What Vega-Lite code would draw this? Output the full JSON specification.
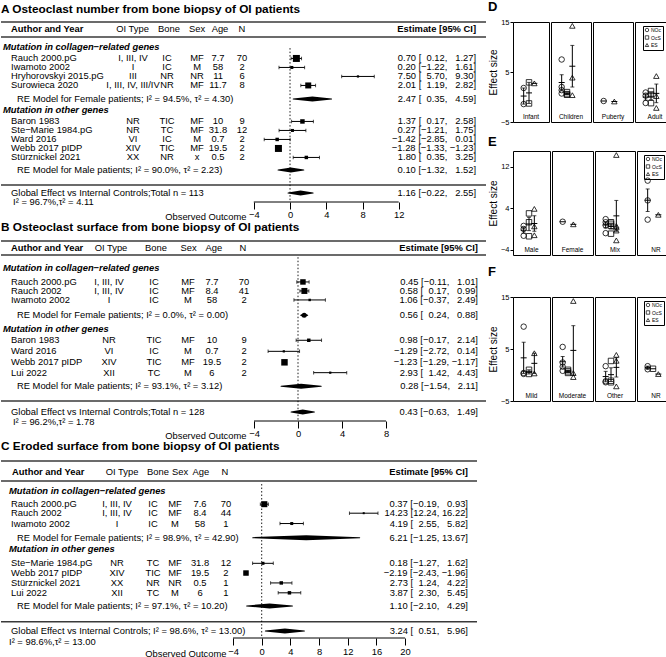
{
"$schema": "https://vega.github.io/schema/vega-lite/v6.json",
"padding": 0,
"background": "white",
"config": {"font": "Liberation Sans", "view": {"stroke": null}, "text": {"font": "Liberation Sans", "fontSize": 9.4, "color": "black"}, "title": {"font": "Liberation Sans", "color": "black"}, "axis": {"labelFont": "Liberation Sans", "titleFont": "Liberation Sans"}, "legend": {"labelFont": "Liberation Sans"}},
"datasets": {
"A": [
{"author": "Rauch 2000.pG", "oitype": "I, III, IV", "bone": "IC", "sex": "MF", "age": "7.7", "n": "70", "est": 0.70, "lo": 0.12, "hi": 1.27, "weight": 49, "row": 4.05, "ci": "0.70 [\u20070.12, \u20071.27]"},
{"author": "Iwamoto 2002", "oitype": "I", "bone": "IC", "sex": "M", "age": "58", "n": "2", "est": 0.20, "lo": -1.22, "hi": 1.61, "weight": 9, "row": 5.05, "ci": "0.20 [\u22121.22, \u20071.61]"},
{"author": "Hryhorovskyi 2015.pG", "oitype": "III", "bone": "NR", "sex": "NR", "age": "11", "n": "6", "est": 7.50, "lo": 5.70, "hi": 9.30, "weight": 5, "row": 6.05, "ci": "7.50 [\u20075.70, \u20079.30]"},
{"author": "Surowieca 2020", "oitype": "I, III, IV, III/IV", "bone": "NR", "sex": "MF", "age": "11.7", "n": "8", "est": 2.01, "lo": 1.19, "hi": 2.82, "weight": 36, "row": 7.05, "ci": "2.01 [\u20071.19, \u20072.82]"},
{"author": "Baron 1983", "oitype": "NR", "bone": "TIC", "sex": "MF", "age": "10", "n": "9", "est": 1.37, "lo": 0.17, "hi": 2.58, "weight": 20, "row": 11.05, "ci": "1.37 [\u20070.17, \u20072.58]"},
{"author": "Ste\u2212Marie 1984.pG", "oitype": "NR", "bone": "TC", "sex": "MF", "age": "31.8", "n": "12", "est": 0.27, "lo": -1.21, "hi": 1.75, "weight": 9, "row": 12.05, "ci": "0.27 [\u22121.21, \u20071.75]"},
{"author": "Ward 2016", "oitype": "VI", "bone": "IC", "sex": "M", "age": "0.7", "n": "2", "est": -1.42, "lo": -2.85, "hi": 0.01, "weight": 12, "row": 13.05, "ci": "\u22121.42 [\u22122.85, \u20070.01]"},
{"author": "Webb 2017 pIDP", "oitype": "XIV", "bone": "TIC", "sex": "MF", "age": "19.5", "n": "2", "est": -1.28, "lo": -1.33, "hi": -1.23, "weight": 49, "row": 14.05, "ci": "\u22121.28 [\u22121.33, \u22121.23]"},
{"author": "St\u00fcrznickel 2021", "oitype": "XX", "bone": "NR", "sex": "x", "age": "0.5", "n": "2", "est": 1.80, "lo": 0.35, "hi": 3.25, "weight": 12, "row": 15.05, "ci": "1.80 [\u20070.35, \u20073.25]"}
],
"Asum": [
{"label": "RE Model for Female patients; I\u00b2 = 94.5%, \u03c4\u00b2 = 4.30)", "kind": "RE", "est": 2.47, "lo": 0.35, "hi": 4.59, "row": 8.56, "ci": "2.47 [\u20070.35, \u20074.59]"},
{"label": "RE Model for Male patients; I\u00b2 = 90.0%, \u03c4\u00b2 = 2.23)", "kind": "RE", "est": 0.10, "lo": -1.32, "hi": 1.52, "row": 16.44, "ci": "0.10 [\u22121.32, \u20071.52]"},
{"label": "Global Effect vs Internal Controls;Total n = 113", "kind": "G", "est": 1.16, "lo": -0.22, "hi": 2.55, "row": 19.0, "ci": "1.16 [\u22120.22, \u20072.55]"}
],
"B": [
{"author": "Rauch 2000.pG", "oitype": "I, III, IV", "bone": "IC", "sex": "MF", "age": "7.7", "n": "70", "est": 0.45, "lo": -0.11, "hi": 1.01, "weight": 30, "row": 4.55, "ci": "0.45 [\u22120.11, \u20071.01]"},
{"author": "Rauch 2002", "oitype": "I, III, IV", "bone": "IC", "sex": "MF", "age": "8.4", "n": "41", "est": 0.58, "lo": 0.17, "hi": 0.99, "weight": 36, "row": 5.55, "ci": "0.58 [\u20070.17, \u20070.99]"},
{"author": "Iwamoto 2002", "oitype": "I", "bone": "IC", "sex": "M", "age": "58", "n": "2", "est": 1.06, "lo": -0.37, "hi": 2.49, "weight": 6, "row": 6.55, "ci": "1.06 [\u22120.37, \u20072.49]"},
{"author": "Baron 1983", "oitype": "NR", "bone": "TIC", "sex": "MF", "age": "10", "n": "9", "est": 0.98, "lo": -0.17, "hi": 2.14, "weight": 12, "row": 11.03, "ci": "0.98 [\u22120.17, \u20072.14]"},
{"author": "Ward 2016", "oitype": "VI", "bone": "IC", "sex": "M", "age": "0.7", "n": "2", "est": -1.29, "lo": -2.72, "hi": 0.14, "weight": 5, "row": 12.26, "ci": "\u22121.29 [\u22122.72, \u20070.14]"},
{"author": "Webb 2017 pIDP", "oitype": "XIV", "bone": "TIC", "sex": "MF", "age": "19.5", "n": "2", "est": -1.23, "lo": -1.29, "hi": -1.17, "weight": 42, "row": 13.48, "ci": "\u22121.23 [\u22121.29, \u22121.17]"},
{"author": "Lui 2022", "oitype": "XII", "bone": "TC", "sex": "M", "age": "6", "n": "2", "est": 2.93, "lo": 1.42, "hi": 4.43, "weight": 5, "row": 14.63, "ci": "2.93 [\u20071.42, \u20074.43]"}
],
"Bsum": [
{"label": "RE Model for Female patients; I\u00b2 = 0.0%, \u03c4\u00b2 = 0.00)", "kind": "RE", "est": 0.56, "lo": 0.24, "hi": 0.88, "row": 8.26, "ci": "0.56 [\u20070.24, \u20070.88]"},
{"label": "RE Model for Male patients; I\u00b2 = 93.1%, \u03c4\u00b2 = 3.12)", "kind": "RE", "est": 0.28, "lo": -1.54, "hi": 2.11, "row": 16.14, "ci": "0.28 [\u22121.54, \u20072.11]"},
{"label": "Global Effect vs Internal Controls;Total n = 128", "kind": "G", "est": 0.43, "lo": -0.63, "hi": 1.49, "row": 19.0, "ci": "0.43 [\u22120.63, \u20071.49]"}
],
"C": [
{"author": "Rauch 2000.pG", "oitype": "I, III, IV", "bone": "IC", "sex": "MF", "age": "7.6", "n": "70", "est": 0.37, "lo": -0.19, "hi": 0.93, "weight": 36, "row": 4.8, "ci": "0.37 [\u22120.19, \u20070.93]"},
{"author": "Rauch 2002", "oitype": "I, III, IV", "bone": "IC", "sex": "MF", "age": "8.4", "n": "44", "est": 14.23, "lo": 12.24, "hi": 16.22, "weight": 4, "row": 5.8, "ci": "14.23 [12.24, 16.22]"},
{"author": "Iwamoto 2002", "oitype": "I", "bone": "IC", "sex": "M", "age": "58", "n": "1", "est": 4.19, "lo": 2.55, "hi": 5.82, "weight": 9, "row": 6.95, "ci": "4.19 [\u20072.55, \u20075.82]"},
{"author": "Ste\u2212Marie 1984.pG", "oitype": "NR", "bone": "TC", "sex": "MF", "age": "31.8", "n": "12", "est": 0.18, "lo": -1.27, "hi": 1.62, "weight": 9, "row": 11.37, "ci": "0.18 [\u22121.27, \u20071.62]"},
{"author": "Webb 2017 pIDP", "oitype": "XIV", "bone": "TIC", "sex": "MF", "age": "19.5", "n": "2", "est": -2.19, "lo": -2.43, "hi": -1.96, "weight": 30, "row": 12.45, "ci": "\u22122.19 [\u22122.43, \u22121.96]"},
{"author": "St\u00fcrznickel 2021", "oitype": "XX", "bone": "NR", "sex": "NR", "age": "0.5", "n": "1", "est": 2.73, "lo": 1.24, "hi": 4.22, "weight": 12, "row": 13.55, "ci": "2.73 [\u20071.24, \u20074.22]"},
{"author": "Lui 2022", "oitype": "XII", "bone": "TC", "sex": "M", "age": "6", "n": "1", "est": 3.87, "lo": 2.30, "hi": 5.45, "weight": 12, "row": 14.65, "ci": "3.87 [\u20072.30, \u20075.45]"}
],
"Csum": [
{"label": "RE Model for Female patients; I\u00b2 = 98.9%, \u03c4\u00b2 = 42.90)", "kind": "RE", "est": 6.21, "lo": -1.25, "hi": 13.67, "row": 8.52, "ci": "6.21 [\u22121.25, 13.67]"},
{"label": "RE Model for Male patients; I\u00b2 = 97.1%, \u03c4\u00b2 = 10.20)", "kind": "RE", "est": 1.10, "lo": -2.10, "hi": 4.29, "row": 16.11, "ci": "1.10 [\u22122.10, \u20074.29]"},
{"label": "Global Effect vs Internal Controls; I\u00b2 = 98.6%, \u03c4\u00b2 = 13.00)", "kind": "G", "est": 3.24, "lo": 0.51, "hi": 5.96, "row": 18.89, "ci": "3.24 [\u20070.51, \u20075.96]"}
],
"D": [
{"cat": "Infant", "measure": "NOc", "value": 1.80}, {"cat": "Infant", "measure": "NOc", "value": -1.42},
{"cat": "Infant", "measure": "OcS", "value": 2.93}, {"cat": "Infant", "measure": "OcS", "value": -1.29},
{"cat": "Infant", "measure": "ES", "value": 2.73},
{"cat": "Children", "measure": "NOc", "value": 7.50}, {"cat": "Children", "measure": "NOc", "value": 2.01}, {"cat": "Children", "measure": "NOc", "value": 1.37}, {"cat": "Children", "measure": "NOc", "value": 0.70},
{"cat": "Children", "measure": "OcS", "value": 0.98}, {"cat": "Children", "measure": "OcS", "value": 0.58}, {"cat": "Children", "measure": "OcS", "value": 0.45},
{"cat": "Children", "measure": "ES", "value": 14.23}, {"cat": "Children", "measure": "ES", "value": 3.87}, {"cat": "Children", "measure": "ES", "value": 0.37},
{"cat": "Puberty", "measure": "NOc", "value": -0.8},
{"cat": "Puberty", "measure": "ES", "value": -0.9},
{"cat": "Adult", "measure": "NOc", "value": 0.9}, {"cat": "Adult", "measure": "NOc", "value": 0.27}, {"cat": "Adult", "measure": "NOc", "value": -1.2},
{"cat": "Adult", "measure": "OcS", "value": 1.2}, {"cat": "Adult", "measure": "OcS", "value": 0.5}, {"cat": "Adult", "measure": "OcS", "value": -1.23},
{"cat": "Adult", "measure": "ES", "value": 4.19}, {"cat": "Adult", "measure": "ES", "value": 0.18}, {"cat": "Adult", "measure": "ES", "value": -2.19}
],
"E": [
{"cat": "Male", "measure": "NOc", "value": 0.6}, {"cat": "Male", "measure": "NOc", "value": 0.0}, {"cat": "Male", "measure": "NOc", "value": -1.3},
{"cat": "Male", "measure": "OcS", "value": 3.0}, {"cat": "Male", "measure": "OcS", "value": 1.3}, {"cat": "Male", "measure": "OcS", "value": -1.4},
{"cat": "Male", "measure": "ES", "value": 3.87}, {"cat": "Male", "measure": "ES", "value": 0.5}, {"cat": "Male", "measure": "ES", "value": -1.2},
{"cat": "Female", "measure": "NOc", "value": 1.4},
{"cat": "Female", "measure": "ES", "value": 0.9},
{"cat": "Mix", "measure": "NOc", "value": 1.9}, {"cat": "Mix", "measure": "NOc", "value": 1.3}, {"cat": "Mix", "measure": "NOc", "value": 0.7}, {"cat": "Mix", "measure": "NOc", "value": -0.8},
{"cat": "Mix", "measure": "OcS", "value": 1.3}, {"cat": "Mix", "measure": "OcS", "value": 1.0}, {"cat": "Mix", "measure": "OcS", "value": 0.6}, {"cat": "Mix", "measure": "OcS", "value": -0.9},
{"cat": "Mix", "measure": "ES", "value": 14.23}, {"cat": "Mix", "measure": "ES", "value": 0.6}, {"cat": "Mix", "measure": "ES", "value": 0.3}, {"cat": "Mix", "measure": "ES", "value": -0.3}, {"cat": "Mix", "measure": "ES", "value": -2.19},
{"cat": "NR", "measure": "NOc", "value": 9.3}, {"cat": "NR", "measure": "NOc", "value": 5.5}, {"cat": "NR", "measure": "NOc", "value": 1.8},
{"cat": "NR", "measure": "ES", "value": 2.73}
],
"F": [
{"cat": "Mild", "measure": "NOc", "value": 9.3}, {"cat": "Mild", "measure": "NOc", "value": 0.4}, {"cat": "Mild", "measure": "NOc", "value": 0.2},
{"cat": "Mild", "measure": "OcS", "value": 1.0}, {"cat": "Mild", "measure": "OcS", "value": 0.2},
{"cat": "Mild", "measure": "ES", "value": 4.19}, {"cat": "Mild", "measure": "ES", "value": 0.3},
{"cat": "Moderate", "measure": "NOc", "value": 5.4}, {"cat": "Moderate", "measure": "NOc", "value": 2.4}, {"cat": "Moderate", "measure": "NOc", "value": 1.6}, {"cat": "Moderate", "measure": "NOc", "value": 0.8},
{"cat": "Moderate", "measure": "OcS", "value": 1.0}, {"cat": "Moderate", "measure": "OcS", "value": 0.7}, {"cat": "Moderate", "measure": "OcS", "value": 0.4},
{"cat": "Moderate", "measure": "ES", "value": 14.23}, {"cat": "Moderate", "measure": "ES", "value": 0.37}, {"cat": "Moderate", "measure": "ES", "value": -0.4},
{"cat": "Other", "measure": "NOc", "value": 1.7}, {"cat": "Other", "measure": "NOc", "value": -1.2}, {"cat": "Other", "measure": "NOc", "value": -1.4},
{"cat": "Other", "measure": "OcS", "value": 2.7}, {"cat": "Other", "measure": "OcS", "value": -1.1}, {"cat": "Other", "measure": "OcS", "value": -1.4},
{"cat": "Other", "measure": "ES", "value": 3.87}, {"cat": "Other", "measure": "ES", "value": 2.73}, {"cat": "Other", "measure": "ES", "value": -2.19},
{"cat": "NR", "measure": "NOc", "value": 1.7}, {"cat": "NR", "measure": "NOc", "value": 1.1},
{"cat": "NR", "measure": "OcS", "value": 1.2},
{"cat": "NR", "measure": "ES", "value": 0.18}
]
},
"hconcat": [
{"vconcat": [
{
"width": 485, "height": 180,
"title": {"text": "A Osteoclast number from bone biopsy of OI patients", "anchor": "start", "frame": "group", "fontSize": 11.8, "fontWeight": "bold", "offset": 7, "dy": 2},
"layer": [
{"data": {"values": [{}]}, "mark": {"type": "rule", "color": "black", "strokeWidth": 1},
 "encoding": {
  "x": {"datum": -4, "type": "quantitative", "scale": {"domain": [-31.9, 21.63], "nice": false, "zero": false},
   "axis": {"values": [-4, 0, 4, 8, 12], "domain": false, "grid": false, "tickSize": 7, "tickColor": "black", "tickWidth": 1, "labelFontSize": 9.4, "labelColor": "black", "labelPadding": 1, "labelFlush": false, "labelOverlap": false, "title": "Observed Outcome", "titleFontSize": 9.4, "titleFontWeight": "normal", "titleColor": "black", "titleAlign": "right", "titleX": 245, "titleY": 14, "titleBaseline": "middle"}},
  "x2": {"datum": 12},
  "y": {"datum": 20, "type": "quantitative", "scale": {"domain": [0, 20], "reverse": true, "nice": false, "zero": false}, "axis": null}}},
{"data": {"values": [{}]}, "mark": {"type": "rule", "color": "#3a3a3a", "strokeWidth": 1.6}, "encoding": {"y": {"datum": 0}}},
{"data": {"values": [{}]}, "mark": {"type": "rule", "color": "#3a3a3a", "strokeWidth": 1.6}, "encoding": {"y": {"datum": 1.67}}},
{"data": {"values": [{}]}, "mark": {"type": "rule", "color": "#3a3a3a", "strokeWidth": 1.6}, "encoding": {"y": {"datum": 18.11}}},
{"data": {"values": [{}]}, "mark": {"type": "rule", "color": "black", "strokeWidth": 0.9, "strokeDash": [1.5, 2]}, "encoding": {"x": {"datum": 0}, "y": {"datum": 2.9}, "y2": {"datum": 20}}},
{"data": {"values": [{}]}, "mark": {"type": "text", "align": "left", "fontWeight": "bold"}, "encoding": {"x": {"datum": -30.79}, "y": {"datum": 0.78}, "text": {"value": "Author and Year"}}},
{"data": {"values": [{}]}, "mark": {"type": "text"}, "encoding": {"x": {"datum": -17.38}, "y": {"datum": 0.78}, "text": {"value": "OI Type"}}},
{"data": {"values": [{}]}, "mark": {"type": "text"}, "encoding": {"x": {"datum": -13.36}, "y": {"datum": 0.78}, "text": {"value": "Bone"}}},
{"data": {"values": [{}]}, "mark": {"type": "text"}, "encoding": {"x": {"datum": -10.26}, "y": {"datum": 0.78}, "text": {"value": "Sex"}}},
{"data": {"values": [{}]}, "mark": {"type": "text"}, "encoding": {"x": {"datum": -7.73}, "y": {"datum": 0.78}, "text": {"value": "Age"}}},
{"data": {"values": [{}]}, "mark": {"type": "text"}, "encoding": {"x": {"datum": -5.3}, "y": {"datum": 0.78}, "text": {"value": "N"}}},
{"data": {"values": [{}]}, "mark": {"type": "text", "align": "right", "fontWeight": "bold"}, "encoding": {"x": {"datum": 20.53}, "y": {"datum": 0.78}, "text": {"value": "Estimate [95% CI]"}}},
{"data": {"values": [{}]}, "mark": {"type": "text", "align": "left", "fontWeight": "bold", "fontStyle": "italic"}, "encoding": {"x": {"datum": -31.68}, "y": {"datum": 2.78}, "text": {"value": "Mutation in collagen\u2212related genes"}}},
{"data": {"values": [{}]}, "mark": {"type": "text", "align": "left", "fontWeight": "bold", "fontStyle": "italic"}, "encoding": {"x": {"datum": -31.68}, "y": {"datum": 9.78}, "text": {"value": "Mutation in other genes"}}},
{"data": {"values": [{}]}, "mark": {"type": "text", "align": "left"}, "encoding": {"x": {"datum": -30.57}, "y": {"datum": 20.0}, "text": {"value": "I\u00b2 = 96.7%,\u03c4\u00b2 = 4.11"}}},
{"data": {"name": "A"}, "mark": {"type": "rule", "color": "black", "strokeWidth": 1}, "encoding": {"x": {"field": "lo", "type": "quantitative"}, "x2": {"field": "hi"}, "y": {"field": "row", "type": "quantitative"}}},
{"data": {"name": "A"}, "mark": {"type": "tick", "orient": "vertical", "size": 3.5, "thickness": 1, "color": "black"}, "encoding": {"x": {"field": "lo", "type": "quantitative"}, "y": {"field": "row", "type": "quantitative"}}},
{"data": {"name": "A"}, "mark": {"type": "tick", "orient": "vertical", "size": 3.5, "thickness": 1, "color": "black"}, "encoding": {"x": {"field": "hi", "type": "quantitative"}, "y": {"field": "row", "type": "quantitative"}}},
{"data": {"name": "A"}, "mark": {"type": "square", "color": "black", "opacity": 1}, "encoding": {"x": {"field": "est", "type": "quantitative"}, "y": {"field": "row", "type": "quantitative"}, "size": {"field": "weight", "type": "quantitative", "scale": {"domain": [0, 50], "range": [0, 50]}, "legend": null}}},
{"data": {"name": "A"}, "mark": {"type": "text", "align": "left"}, "encoding": {"x": {"datum": -30.79}, "y": {"field": "row", "type": "quantitative"}, "text": {"field": "author"}}},
{"data": {"name": "A"}, "mark": {"type": "text"}, "encoding": {"x": {"datum": -17.33}, "y": {"field": "row", "type": "quantitative"}, "text": {"field": "oitype"}}},
{"data": {"name": "A"}, "mark": {"type": "text"}, "encoding": {"x": {"datum": -13.58}, "y": {"field": "row", "type": "quantitative"}, "text": {"field": "bone"}}},
{"data": {"name": "A"}, "mark": {"type": "text"}, "encoding": {"x": {"datum": -10.26}, "y": {"field": "row", "type": "quantitative"}, "text": {"field": "sex"}}},
{"data": {"name": "A"}, "mark": {"type": "text"}, "encoding": {"x": {"datum": -7.95}, "y": {"field": "row", "type": "quantitative"}, "text": {"field": "age"}}},
{"data": {"name": "A"}, "mark": {"type": "text"}, "encoding": {"x": {"datum": -5.3}, "y": {"field": "row", "type": "quantitative"}, "text": {"field": "n"}}},
{"data": {"name": "A"}, "mark": {"type": "text", "align": "right"}, "encoding": {"x": {"datum": 20.53}, "y": {"field": "row", "type": "quantitative"}, "text": {"field": "ci"}}},
{"data": {"name": "Asum"}, "transform": [{"fold": ["lo", "est", "hi"], "as": ["pt", "xv"]}], "mark": {"type": "trail", "color": "black"},
 "encoding": {"x": {"field": "xv", "type": "quantitative"}, "y": {"field": "row", "type": "quantitative"}, "detail": {"field": "label"}, "size": {"condition": {"test": "datum.pt == 'est'", "value": 5}, "value": 0}}},
{"data": {"name": "Asum"}, "transform": [{"filter": "datum.kind == 'RE'"}], "mark": {"type": "text", "align": "left"}, "encoding": {"x": {"datum": -30.13}, "y": {"field": "row", "type": "quantitative"}, "text": {"field": "label"}}},
{"data": {"name": "Asum"}, "transform": [{"filter": "datum.kind == 'G'"}], "mark": {"type": "text", "align": "left"}, "encoding": {"x": {"datum": -30.79}, "y": {"field": "row", "type": "quantitative"}, "text": {"field": "label"}}},
{"data": {"name": "Asum"}, "mark": {"type": "text", "align": "right"}, "encoding": {"x": {"datum": 20.53}, "y": {"field": "row", "type": "quantitative"}, "text": {"field": "ci"}}}
]
},
{
"width": 485, "height": 180,
"title": {"text": "B Osteoclast surface from bone biopsy of OI patients", "anchor": "start", "frame": "group", "fontSize": 11.8, "fontWeight": "bold", "offset": 6},
"layer": [
{"data": {"values": [{}]}, "mark": {"type": "rule", "color": "black", "strokeWidth": 1},
 "encoding": {
  "x": {"datum": -4, "type": "quantitative", "scale": {"domain": [-27.0, 17.09], "nice": false, "zero": false},
   "axis": {"values": [-4, 0, 4, 8], "domain": false, "grid": false, "tickSize": 7, "tickColor": "black", "tickWidth": 1, "labelFontSize": 9.4, "labelColor": "black", "labelPadding": 1, "labelFlush": false, "labelOverlap": false, "title": "Observed Outcome", "titleFontSize": 9.4, "titleFontWeight": "normal", "titleColor": "black", "titleAlign": "right", "titleX": 245, "titleY": 14, "titleBaseline": "middle"}},
  "x2": {"datum": 8},
  "y": {"datum": 20, "type": "quantitative", "scale": {"domain": [0, 20], "reverse": true, "nice": false, "zero": false}, "axis": null}}},
{"data": {"values": [{}]}, "mark": {"type": "rule", "color": "#3a3a3a", "strokeWidth": 1.6}, "encoding": {"y": {"datum": 0}}},
{"data": {"values": [{}]}, "mark": {"type": "rule", "color": "#3a3a3a", "strokeWidth": 1.6}, "encoding": {"y": {"datum": 1.56}}},
{"data": {"values": [{}]}, "mark": {"type": "rule", "color": "#3a3a3a", "strokeWidth": 1.6}, "encoding": {"y": {"datum": 17.78}}},
{"data": {"values": [{}]}, "mark": {"type": "rule", "color": "black", "strokeWidth": 0.9, "strokeDash": [1.5, 2]}, "encoding": {"x": {"datum": 0}, "y": {"datum": 1.8}, "y2": {"datum": 20}}},
{"data": {"values": [{}]}, "mark": {"type": "text", "align": "left", "fontWeight": "bold"}, "encoding": {"x": {"datum": -26.09}, "y": {"datum": 0.78}, "text": {"value": "Author and Year"}}},
{"data": {"values": [{}]}, "mark": {"type": "text"}, "encoding": {"x": {"datum": -17.0}, "y": {"datum": 0.78}, "text": {"value": "OI Type"}}},
{"data": {"values": [{}]}, "mark": {"type": "text"}, "encoding": {"x": {"datum": -12.91}, "y": {"datum": 0.78}, "text": {"value": "Bone"}}},
{"data": {"values": [{}]}, "mark": {"type": "text"}, "encoding": {"x": {"datum": -9.95}, "y": {"datum": 0.78}, "text": {"value": "Sex"}}},
{"data": {"values": [{}]}, "mark": {"type": "text"}, "encoding": {"x": {"datum": -7.64}, "y": {"datum": 0.78}, "text": {"value": "Age"}}},
{"data": {"values": [{}]}, "mark": {"type": "text"}, "encoding": {"x": {"datum": -5.0}, "y": {"datum": 0.78}, "text": {"value": "N"}}},
{"data": {"values": [{}]}, "mark": {"type": "text", "align": "right", "fontWeight": "bold"}, "encoding": {"x": {"datum": 16.36}, "y": {"datum": 0.78}, "text": {"value": "Estimate [95% CI]"}}},
{"data": {"values": [{}]}, "mark": {"type": "text", "align": "left", "fontWeight": "bold", "fontStyle": "italic"}, "encoding": {"x": {"datum": -26.82}, "y": {"datum": 3.0}, "text": {"value": "Mutation in collagen\u2212related genes"}}},
{"data": {"values": [{}]}, "mark": {"type": "text", "align": "left", "fontWeight": "bold", "fontStyle": "italic"}, "encoding": {"x": {"datum": -26.82}, "y": {"datum": 9.74}, "text": {"value": "Mutation in other genes"}}},
{"data": {"values": [{}]}, "mark": {"type": "text", "align": "left"}, "encoding": {"x": {"datum": -25.91}, "y": {"datum": 20.1}, "text": {"value": "I\u00b2 = 96.2%,\u03c4\u00b2 = 1.78"}}},
{"data": {"name": "B"}, "mark": {"type": "rule", "color": "black", "strokeWidth": 1}, "encoding": {"x": {"field": "lo", "type": "quantitative"}, "x2": {"field": "hi"}, "y": {"field": "row", "type": "quantitative"}}},
{"data": {"name": "B"}, "mark": {"type": "tick", "orient": "vertical", "size": 3.5, "thickness": 1, "color": "black"}, "encoding": {"x": {"field": "lo", "type": "quantitative"}, "y": {"field": "row", "type": "quantitative"}}},
{"data": {"name": "B"}, "mark": {"type": "tick", "orient": "vertical", "size": 3.5, "thickness": 1, "color": "black"}, "encoding": {"x": {"field": "hi", "type": "quantitative"}, "y": {"field": "row", "type": "quantitative"}}},
{"data": {"name": "B"}, "mark": {"type": "square", "color": "black", "opacity": 1}, "encoding": {"x": {"field": "est", "type": "quantitative"}, "y": {"field": "row", "type": "quantitative"}, "size": {"field": "weight", "type": "quantitative", "scale": {"domain": [0, 50], "range": [0, 50]}, "legend": null}}},
{"data": {"name": "B"}, "mark": {"type": "text", "align": "left"}, "encoding": {"x": {"datum": -26.09}, "y": {"field": "row", "type": "quantitative"}, "text": {"field": "author"}}},
{"data": {"name": "B"}, "mark": {"type": "text"}, "encoding": {"x": {"datum": -17.18}, "y": {"field": "row", "type": "quantitative"}, "text": {"field": "oitype"}}},
{"data": {"name": "B"}, "mark": {"type": "text"}, "encoding": {"x": {"datum": -13.09}, "y": {"field": "row", "type": "quantitative"}, "text": {"field": "bone"}}},
{"data": {"name": "B"}, "mark": {"type": "text"}, "encoding": {"x": {"datum": -10.0}, "y": {"field": "row", "type": "quantitative"}, "text": {"field": "sex"}}},
{"data": {"name": "B"}, "mark": {"type": "text"}, "encoding": {"x": {"datum": -7.82}, "y": {"field": "row", "type": "quantitative"}, "text": {"field": "age"}}},
{"data": {"name": "B"}, "mark": {"type": "text"}, "encoding": {"x": {"datum": -4.91}, "y": {"field": "row", "type": "quantitative"}, "text": {"field": "n"}}},
{"data": {"name": "B"}, "mark": {"type": "text", "align": "right"}, "encoding": {"x": {"datum": 16.36}, "y": {"field": "row", "type": "quantitative"}, "text": {"field": "ci"}}},
{"data": {"name": "Bsum"}, "transform": [{"fold": ["lo", "est", "hi"], "as": ["pt", "xv"]}], "mark": {"type": "trail", "color": "black"},
 "encoding": {"x": {"field": "xv", "type": "quantitative"}, "y": {"field": "row", "type": "quantitative"}, "detail": {"field": "label"}, "size": {"condition": {"test": "datum.pt == 'est'", "value": 5}, "value": 0}}},
{"data": {"name": "Bsum"}, "transform": [{"filter": "datum.kind == 'RE'"}], "mark": {"type": "text", "align": "left"}, "encoding": {"x": {"datum": -25.55}, "y": {"field": "row", "type": "quantitative"}, "text": {"field": "label"}}},
{"data": {"name": "Bsum"}, "transform": [{"filter": "datum.kind == 'G'"}], "mark": {"type": "text", "align": "left"}, "encoding": {"x": {"datum": -26.09}, "y": {"field": "row", "type": "quantitative"}, "text": {"field": "label"}}},
{"data": {"name": "Bsum"}, "mark": {"type": "text", "align": "right"}, "encoding": {"x": {"datum": 16.36}, "y": {"field": "row", "type": "quantitative"}, "text": {"field": "ci"}}}
]
},
{
"width": 476, "height": 177,
"title": {"text": "C Eroded surface from bone biopsy of OI patients", "anchor": "start", "frame": "group", "fontSize": 11.8, "fontWeight": "bold", "offset": 7},
"layer": [
{"data": {"values": [{}]}, "mark": {"type": "rule", "color": "black", "strokeWidth": 1},
 "encoding": {
  "x": {"datum": -4, "type": "quantitative", "scale": {"domain": [-36.36, 30.03], "nice": false, "zero": false},
   "axis": {"values": [-4, 0, 4, 8, 12, 16, 20], "domain": false, "grid": false, "tickSize": 7, "tickColor": "black", "tickWidth": 1, "labelFontSize": 9.4, "labelColor": "black", "labelPadding": 2, "labelFlush": false, "labelOverlap": false, "title": "Observed Outcome", "titleFontSize": 9.4, "titleFontWeight": "normal", "titleColor": "black", "titleAlign": "right", "titleX": 225, "titleY": 15, "titleBaseline": "middle"}},
  "x2": {"datum": 20},
  "y": {"datum": 19.67, "type": "quantitative", "scale": {"domain": [0, 19.67], "reverse": true, "nice": false, "zero": false}, "axis": null}}},
{"data": {"values": [{}]}, "mark": {"type": "rule", "color": "#3a3a3a", "strokeWidth": 1.6}, "encoding": {"y": {"datum": 0}}},
{"data": {"values": [{}]}, "mark": {"type": "rule", "color": "#3a3a3a", "strokeWidth": 1.6}, "encoding": {"y": {"datum": 2.22}}},
{"data": {"values": [{}]}, "mark": {"type": "rule", "color": "#3a3a3a", "strokeWidth": 1.6}, "encoding": {"y": {"datum": 17.86}}},
{"data": {"values": [{}]}, "mark": {"type": "rule", "color": "black", "strokeWidth": 0.9, "strokeDash": [1.5, 2]}, "encoding": {"x": {"datum": 0}, "y": {"datum": 2.56}, "y2": {"datum": 19.67}}},
{"data": {"values": [{}]}, "mark": {"type": "text", "align": "left", "fontWeight": "bold"}, "encoding": {"x": {"datum": -34.82}, "y": {"datum": 1.22}, "text": {"value": "Author and Year"}}},
{"data": {"values": [{}]}, "mark": {"type": "text"}, "encoding": {"x": {"datum": -19.48}, "y": {"datum": 1.22}, "text": {"value": "OI Type"}}},
{"data": {"values": [{}]}, "mark": {"type": "text"}, "encoding": {"x": {"datum": -14.46}, "y": {"datum": 1.22}, "text": {"value": "Bone"}}},
{"data": {"values": [{}]}, "mark": {"type": "text"}, "encoding": {"x": {"datum": -11.39}, "y": {"datum": 1.22}, "text": {"value": "Sex"}}},
{"data": {"values": [{}]}, "mark": {"type": "text"}, "encoding": {"x": {"datum": -8.47}, "y": {"datum": 1.22}, "text": {"value": "Age"}}},
{"data": {"values": [{}]}, "mark": {"type": "text"}, "encoding": {"x": {"datum": -5.12}, "y": {"datum": 1.22}, "text": {"value": "N"}}},
{"data": {"values": [{}]}, "mark": {"type": "text", "align": "right", "fontWeight": "bold"}, "encoding": {"x": {"datum": 28.77}, "y": {"datum": 1.22}, "text": {"value": "Estimate [95% CI]"}}},
{"data": {"values": [{}]}, "mark": {"type": "text", "align": "left", "fontWeight": "bold", "fontStyle": "italic"}, "encoding": {"x": {"datum": -35.24}, "y": {"datum": 3.33}, "text": {"value": "Mutation in collagen\u2212related genes"}}},
{"data": {"values": [{}]}, "mark": {"type": "text", "align": "left", "fontWeight": "bold", "fontStyle": "italic"}, "encoding": {"x": {"datum": -35.24}, "y": {"datum": 9.81}, "text": {"value": "Mutation in other genes"}}},
{"data": {"values": [{}]}, "mark": {"type": "text", "align": "left"}, "encoding": {"x": {"datum": -35.24}, "y": {"datum": 20.08}, "text": {"value": "I\u00b2 = 98.6%,\u03c4\u00b2 = 13.00"}}},
{"data": {"name": "C"}, "mark": {"type": "rule", "color": "black", "strokeWidth": 1}, "encoding": {"x": {"field": "lo", "type": "quantitative"}, "x2": {"field": "hi"}, "y": {"field": "row", "type": "quantitative"}}},
{"data": {"name": "C"}, "mark": {"type": "tick", "orient": "vertical", "size": 3.5, "thickness": 1, "color": "black"}, "encoding": {"x": {"field": "lo", "type": "quantitative"}, "y": {"field": "row", "type": "quantitative"}}},
{"data": {"name": "C"}, "mark": {"type": "tick", "orient": "vertical", "size": 3.5, "thickness": 1, "color": "black"}, "encoding": {"x": {"field": "hi", "type": "quantitative"}, "y": {"field": "row", "type": "quantitative"}}},
{"data": {"name": "C"}, "mark": {"type": "square", "color": "black", "opacity": 1}, "encoding": {"x": {"field": "est", "type": "quantitative"}, "y": {"field": "row", "type": "quantitative"}, "size": {"field": "weight", "type": "quantitative", "scale": {"domain": [0, 50], "range": [0, 50]}, "legend": null}}},
{"data": {"name": "C"}, "mark": {"type": "text", "align": "left"}, "encoding": {"x": {"datum": -34.96}, "y": {"field": "row", "type": "quantitative"}, "text": {"field": "author"}}},
{"data": {"name": "C"}, "mark": {"type": "text"}, "encoding": {"x": {"datum": -20.18}, "y": {"field": "row", "type": "quantitative"}, "text": {"field": "oitype"}}},
{"data": {"name": "C"}, "mark": {"type": "text"}, "encoding": {"x": {"datum": -15.16}, "y": {"field": "row", "type": "quantitative"}, "text": {"field": "bone"}}},
{"data": {"name": "C"}, "mark": {"type": "text"}, "encoding": {"x": {"datum": -12.09}, "y": {"field": "row", "type": "quantitative"}, "text": {"field": "sex"}}},
{"data": {"name": "C"}, "mark": {"type": "text"}, "encoding": {"x": {"datum": -8.6}, "y": {"field": "row", "type": "quantitative"}, "text": {"field": "age"}}},
{"data": {"name": "C"}, "mark": {"type": "text"}, "encoding": {"x": {"datum": -4.99}, "y": {"field": "row", "type": "quantitative"}, "text": {"field": "n"}}},
{"data": {"name": "C"}, "mark": {"type": "text", "align": "right"}, "encoding": {"x": {"datum": 28.77}, "y": {"field": "row", "type": "quantitative"}, "text": {"field": "ci"}}},
{"data": {"name": "Csum"}, "transform": [{"fold": ["lo", "est", "hi"], "as": ["pt", "xv"]}], "mark": {"type": "trail", "color": "black"},
 "encoding": {"x": {"field": "xv", "type": "quantitative"}, "y": {"field": "row", "type": "quantitative"}, "detail": {"field": "label"}, "size": {"condition": {"test": "datum.pt == 'est'", "value": 5}, "value": 0}}},
{"data": {"name": "Csum"}, "transform": [{"filter": "datum.kind == 'RE'"}], "mark": {"type": "text", "align": "left"}, "encoding": {"x": {"datum": -34.12}, "y": {"field": "row", "type": "quantitative"}, "text": {"field": "label"}}},
{"data": {"name": "Csum"}, "transform": [{"filter": "datum.kind == 'G'"}], "mark": {"type": "text", "align": "left"}, "encoding": {"x": {"datum": -34.96}, "y": {"field": "row", "type": "quantitative"}, "text": {"field": "label"}}},
{"data": {"name": "Csum"}, "mark": {"type": "text", "align": "right"}, "encoding": {"x": {"datum": 28.77}, "y": {"field": "row", "type": "quantitative"}, "text": {"field": "ci"}}}
]
}
], "spacing": 1},
{"vconcat": [
{"title": {"text": "D", "anchor": "start", "fontSize": 13, "fontWeight": "bold", "offset": 4},
 "data": {"name": "D"}, "spacing": 0,
 "resolve": {"scale": {"shape": "independent"}, "legend": {"shape": "independent"}},
 "hconcat": [
  {"width": 36, "height": 100, "view": {"stroke": "black", "strokeWidth": 1}, "transform": [{"filter": "datum.cat == 'Infant'"}],
   "layer": [
    {"mark": {"type": "errorbar", "extent": "stderr", "ticks": {"size": 4}, "color": "black"}, "encoding": {"x": {"field": "measure", "type": "nominal", "scale": {"type": "point", "domain": ["NOc", "OcS", "ES"], "range": [8, 24]}, "axis": null}, "y": {"field": "value", "type": "quantitative", "scale": {"domain": [-5, 15], "nice": false, "zero": false}, "axis": {"title": "Effect size", "values": [-5, 0, 5, 10, 15], "grid": false, "domain": false, "tickSize": 3, "tickColor": "black", "labelFontSize": 7.5, "labelColor": "black", "labelPadding": 1, "titleFontSize": 10, "titleFontWeight": "normal", "titleColor": "black", "titlePadding": 2}}}},
    {"mark": {"type": "tick", "orient": "horizontal", "size": 6, "thickness": 1, "color": "black"}, "encoding": {"x": {"field": "measure", "type": "nominal", "axis": null}, "y": {"aggregate": "mean", "field": "value", "type": "quantitative"}}},
    {"mark": {"type": "point", "filled": false, "color": "black", "size": 30, "strokeWidth": 0.8, "opacity": 1}, "encoding": {"x": {"field": "measure", "type": "nominal", "axis": null}, "y": {"field": "value", "type": "quantitative"}, "shape": {"field": "measure", "type": "nominal", "scale": {"domain": ["NOc", "OcS", "ES"], "range": ["circle", "square", "triangle-up"]}, "legend": null}}},
    {"transform": [{"aggregate": [{"op": "count", "as": "k"}], "groupby": ["cat"]}], "mark": {"type": "text", "baseline": "bottom", "dy": -2.5, "fontSize": 6.5}, "encoding": {"y": {"datum": -5}, "text": {"field": "cat"}}}
   ]},
  {"width": 40, "height": 100, "view": {"stroke": "black", "strokeWidth": 1}, "transform": [{"filter": "datum.cat == 'Children'"}],
   "layer": [
    {"mark": {"type": "errorbar", "extent": "stderr", "ticks": {"size": 4}, "color": "black"}, "encoding": {"x": {"field": "measure", "type": "nominal", "scale": {"type": "point", "domain": ["NOc", "OcS", "ES"], "range": [8, 24]}, "axis": null}, "y": {"field": "value", "type": "quantitative", "scale": {"domain": [-5, 15], "nice": false, "zero": false}, "axis": null}}},
    {"mark": {"type": "tick", "orient": "horizontal", "size": 6, "thickness": 1, "color": "black"}, "encoding": {"x": {"field": "measure", "type": "nominal", "axis": null}, "y": {"aggregate": "mean", "field": "value", "type": "quantitative", "axis": null}}},
    {"mark": {"type": "point", "filled": false, "color": "black", "size": 30, "strokeWidth": 0.8, "opacity": 1}, "encoding": {"x": {"field": "measure", "type": "nominal", "axis": null}, "y": {"field": "value", "type": "quantitative", "axis": null}, "shape": {"field": "measure", "type": "nominal", "scale": {"domain": ["NOc", "OcS", "ES"], "range": ["circle", "square", "triangle-up"]}, "legend": null}}},
    {"transform": [{"aggregate": [{"op": "count", "as": "k"}], "groupby": ["cat"]}], "mark": {"type": "text", "baseline": "bottom", "dy": -2.5, "fontSize": 6.5}, "encoding": {"y": {"datum": -5}, "text": {"field": "cat"}}}
   ]},
  {"width": 40, "height": 100, "view": {"stroke": "black", "strokeWidth": 1}, "transform": [{"filter": "datum.cat == 'Puberty'"}],
   "layer": [
    {"mark": {"type": "errorbar", "extent": "stderr", "ticks": {"size": 4}, "color": "black"}, "encoding": {"x": {"field": "measure", "type": "nominal", "scale": {"type": "point", "domain": ["NOc", "OcS", "ES"], "range": [8, 24]}, "axis": null}, "y": {"field": "value", "type": "quantitative", "scale": {"domain": [-5, 15], "nice": false, "zero": false}, "axis": null}}},
    {"mark": {"type": "tick", "orient": "horizontal", "size": 6, "thickness": 1, "color": "black"}, "encoding": {"x": {"field": "measure", "type": "nominal", "axis": null}, "y": {"aggregate": "mean", "field": "value", "type": "quantitative", "axis": null}}},
    {"mark": {"type": "point", "filled": false, "color": "black", "size": 30, "strokeWidth": 0.8, "opacity": 1}, "encoding": {"x": {"field": "measure", "type": "nominal", "axis": null}, "y": {"field": "value", "type": "quantitative", "axis": null}, "shape": {"field": "measure", "type": "nominal", "scale": {"domain": ["NOc", "OcS", "ES"], "range": ["circle", "square", "triangle-up"]}, "legend": null}}},
    {"transform": [{"aggregate": [{"op": "count", "as": "k"}], "groupby": ["cat"]}], "mark": {"type": "text", "baseline": "bottom", "dy": -2.5, "fontSize": 6.5}, "encoding": {"y": {"datum": -5}, "text": {"field": "cat"}}}
   ]},
  {"width": 40, "height": 100, "view": {"stroke": "black", "strokeWidth": 1}, "transform": [{"filter": "datum.cat == 'Adult'"}],
   "layer": [
    {"mark": {"type": "errorbar", "extent": "stderr", "ticks": {"size": 4}, "color": "black"}, "encoding": {"x": {"field": "measure", "type": "nominal", "scale": {"type": "point", "domain": ["NOc", "OcS", "ES"], "range": [8, 24]}, "axis": null}, "y": {"field": "value", "type": "quantitative", "scale": {"domain": [-5, 15], "nice": false, "zero": false}, "axis": null}}},
    {"mark": {"type": "tick", "orient": "horizontal", "size": 6, "thickness": 1, "color": "black"}, "encoding": {"x": {"field": "measure", "type": "nominal", "axis": null}, "y": {"aggregate": "mean", "field": "value", "type": "quantitative", "axis": null}}},
    {"mark": {"type": "point", "filled": false, "color": "black", "size": 30, "strokeWidth": 0.8, "opacity": 1}, "encoding": {"x": {"field": "measure", "type": "nominal", "axis": null}, "y": {"field": "value", "type": "quantitative", "axis": null}, "shape": {"field": "measure", "type": "nominal", "scale": {"domain": ["NOc", "OcS", "ES"], "range": ["circle", "square", "triangle-up"]}, "legend": {"title": null, "orient": "none", "legendX": 8, "legendY": 4, "strokeColor": "black", "padding": 1.5, "symbolSize": 12, "symbolStrokeWidth": 0.7, "labelFontSize": 5, "labelColor": "black", "rowPadding": 0.5, "labelOffset": 1.5}}}},
    {"transform": [{"aggregate": [{"op": "count", "as": "k"}], "groupby": ["cat"]}], "mark": {"type": "text", "baseline": "bottom", "dy": -2.5, "fontSize": 6.5}, "encoding": {"y": {"datum": -5}, "text": {"field": "cat"}}}
   ]}
 ]},
{"title": {"text": "E", "anchor": "start", "fontSize": 13, "fontWeight": "bold", "offset": 2},
 "data": {"name": "E"}, "spacing": 0,
 "resolve": {"scale": {"shape": "independent"}, "legend": {"shape": "independent"}},
 "hconcat": [
  {"width": 37, "height": 104, "view": {"stroke": "black", "strokeWidth": 1}, "transform": [{"filter": "datum.cat == 'Male'"}],
   "layer": [
    {"mark": {"type": "errorbar", "extent": "stderr", "ticks": {"size": 4}, "color": "black"}, "encoding": {"x": {"field": "measure", "type": "nominal", "scale": {"type": "point", "domain": ["NOc", "OcS", "ES"], "range": [8, 24]}, "axis": null}, "y": {"field": "value", "type": "quantitative", "scale": {"domain": [-5, 15], "nice": false, "zero": false}, "axis": {"title": "Effect size", "values": [-4, 0, 4, 8, 12], "grid": false, "domain": false, "tickSize": 3, "tickColor": "black", "labelFontSize": 7.5, "labelColor": "black", "labelPadding": 1, "titleFontSize": 10, "titleFontWeight": "normal", "titleColor": "black", "titlePadding": 2}}}},
    {"mark": {"type": "tick", "orient": "horizontal", "size": 6, "thickness": 1, "color": "black"}, "encoding": {"x": {"field": "measure", "type": "nominal", "axis": null}, "y": {"aggregate": "mean", "field": "value", "type": "quantitative"}}},
    {"mark": {"type": "point", "filled": false, "color": "black", "size": 30, "strokeWidth": 0.8, "opacity": 1}, "encoding": {"x": {"field": "measure", "type": "nominal", "axis": null}, "y": {"field": "value", "type": "quantitative"}, "shape": {"field": "measure", "type": "nominal", "scale": {"domain": ["NOc", "OcS", "ES"], "range": ["circle", "square", "triangle-up"]}, "legend": null}}},
    {"transform": [{"aggregate": [{"op": "count", "as": "k"}], "groupby": ["cat"]}], "mark": {"type": "text", "baseline": "bottom", "dy": -2.5, "fontSize": 6.5}, "encoding": {"y": {"datum": -5}, "text": {"field": "cat"}}}
   ]},
  {"width": 41, "height": 104, "view": {"stroke": "black", "strokeWidth": 1}, "transform": [{"filter": "datum.cat == 'Female'"}],
   "layer": [
    {"mark": {"type": "errorbar", "extent": "stderr", "ticks": {"size": 4}, "color": "black"}, "encoding": {"x": {"field": "measure", "type": "nominal", "scale": {"type": "point", "domain": ["NOc", "OcS", "ES"], "range": [8, 24]}, "axis": null}, "y": {"field": "value", "type": "quantitative", "scale": {"domain": [-5, 15], "nice": false, "zero": false}, "axis": null}}},
    {"mark": {"type": "tick", "orient": "horizontal", "size": 6, "thickness": 1, "color": "black"}, "encoding": {"x": {"field": "measure", "type": "nominal", "axis": null}, "y": {"aggregate": "mean", "field": "value", "type": "quantitative", "axis": null}}},
    {"mark": {"type": "point", "filled": false, "color": "black", "size": 30, "strokeWidth": 0.8, "opacity": 1}, "encoding": {"x": {"field": "measure", "type": "nominal", "axis": null}, "y": {"field": "value", "type": "quantitative", "axis": null}, "shape": {"field": "measure", "type": "nominal", "scale": {"domain": ["NOc", "OcS", "ES"], "range": ["circle", "square", "triangle-up"]}, "legend": null}}},
    {"transform": [{"aggregate": [{"op": "count", "as": "k"}], "groupby": ["cat"]}], "mark": {"type": "text", "baseline": "bottom", "dy": -2.5, "fontSize": 6.5}, "encoding": {"y": {"datum": -5}, "text": {"field": "cat"}}}
   ]},
  {"width": 40, "height": 104, "view": {"stroke": "black", "strokeWidth": 1}, "transform": [{"filter": "datum.cat == 'Mix'"}],
   "layer": [
    {"mark": {"type": "errorbar", "extent": "stderr", "ticks": {"size": 4}, "color": "black"}, "encoding": {"x": {"field": "measure", "type": "nominal", "scale": {"type": "point", "domain": ["NOc", "OcS", "ES"], "range": [8, 24]}, "axis": null}, "y": {"field": "value", "type": "quantitative", "scale": {"domain": [-5, 15], "nice": false, "zero": false}, "axis": null}}},
    {"mark": {"type": "tick", "orient": "horizontal", "size": 6, "thickness": 1, "color": "black"}, "encoding": {"x": {"field": "measure", "type": "nominal", "axis": null}, "y": {"aggregate": "mean", "field": "value", "type": "quantitative", "axis": null}}},
    {"mark": {"type": "point", "filled": false, "color": "black", "size": 30, "strokeWidth": 0.8, "opacity": 1}, "encoding": {"x": {"field": "measure", "type": "nominal", "axis": null}, "y": {"field": "value", "type": "quantitative", "axis": null}, "shape": {"field": "measure", "type": "nominal", "scale": {"domain": ["NOc", "OcS", "ES"], "range": ["circle", "square", "triangle-up"]}, "legend": null}}},
    {"transform": [{"aggregate": [{"op": "count", "as": "k"}], "groupby": ["cat"]}], "mark": {"type": "text", "baseline": "bottom", "dy": -2.5, "fontSize": 6.5}, "encoding": {"y": {"datum": -5}, "text": {"field": "cat"}}}
   ]},
  {"width": 38, "height": 104, "view": {"stroke": "black", "strokeWidth": 1}, "transform": [{"filter": "datum.cat == 'NR'"}],
   "layer": [
    {"mark": {"type": "errorbar", "extent": "stderr", "ticks": {"size": 4}, "color": "black"}, "encoding": {"x": {"field": "measure", "type": "nominal", "scale": {"type": "point", "domain": ["NOc", "OcS", "ES"], "range": [8, 24]}, "axis": null}, "y": {"field": "value", "type": "quantitative", "scale": {"domain": [-5, 15], "nice": false, "zero": false}, "axis": null}}},
    {"mark": {"type": "tick", "orient": "horizontal", "size": 6, "thickness": 1, "color": "black"}, "encoding": {"x": {"field": "measure", "type": "nominal", "axis": null}, "y": {"aggregate": "mean", "field": "value", "type": "quantitative", "axis": null}}},
    {"mark": {"type": "point", "filled": false, "color": "black", "size": 30, "strokeWidth": 0.8, "opacity": 1}, "encoding": {"x": {"field": "measure", "type": "nominal", "axis": null}, "y": {"field": "value", "type": "quantitative", "axis": null}, "shape": {"field": "measure", "type": "nominal", "scale": {"domain": ["NOc", "OcS", "ES"], "range": ["circle", "square", "triangle-up"]}, "legend": {"title": null, "orient": "none", "legendX": 7, "legendY": 4, "strokeColor": "black", "padding": 1.5, "symbolSize": 12, "symbolStrokeWidth": 0.7, "labelFontSize": 5, "labelColor": "black", "rowPadding": 0.5, "labelOffset": 1.5}}}},
    {"transform": [{"aggregate": [{"op": "count", "as": "k"}], "groupby": ["cat"]}], "mark": {"type": "text", "baseline": "bottom", "dy": -2.5, "fontSize": 6.5}, "encoding": {"y": {"datum": -5}, "text": {"field": "cat"}}}
   ]}
 ]},
{"title": {"text": "F", "anchor": "start", "fontSize": 13, "fontWeight": "bold", "offset": 14},
 "data": {"name": "F"}, "spacing": 0,
 "resolve": {"scale": {"shape": "independent"}, "legend": {"shape": "independent"}},
 "hconcat": [
  {"width": 37, "height": 104, "view": {"stroke": "black", "strokeWidth": 1}, "transform": [{"filter": "datum.cat == 'Mild'"}],
   "layer": [
    {"mark": {"type": "errorbar", "extent": "stderr", "ticks": {"size": 4}, "color": "black"}, "encoding": {"x": {"field": "measure", "type": "nominal", "scale": {"type": "point", "domain": ["NOc", "OcS", "ES"], "range": [8, 24]}, "axis": null}, "y": {"field": "value", "type": "quantitative", "scale": {"domain": [-5, 15], "nice": false, "zero": false}, "axis": {"title": "Effect size", "values": [-5, 0, 5, 10, 15], "grid": false, "domain": false, "tickSize": 3, "tickColor": "black", "labelFontSize": 7.5, "labelColor": "black", "labelPadding": 1, "titleFontSize": 10, "titleFontWeight": "normal", "titleColor": "black", "titlePadding": 2}}}},
    {"mark": {"type": "tick", "orient": "horizontal", "size": 6, "thickness": 1, "color": "black"}, "encoding": {"x": {"field": "measure", "type": "nominal", "axis": null}, "y": {"aggregate": "mean", "field": "value", "type": "quantitative"}}},
    {"mark": {"type": "point", "filled": false, "color": "black", "size": 30, "strokeWidth": 0.8, "opacity": 1}, "encoding": {"x": {"field": "measure", "type": "nominal", "axis": null}, "y": {"field": "value", "type": "quantitative"}, "shape": {"field": "measure", "type": "nominal", "scale": {"domain": ["NOc", "OcS", "ES"], "range": ["circle", "square", "triangle-up"]}, "legend": null}}},
    {"transform": [{"aggregate": [{"op": "count", "as": "k"}], "groupby": ["cat"]}], "mark": {"type": "text", "baseline": "bottom", "dy": -2.5, "fontSize": 6.5}, "encoding": {"y": {"datum": -5}, "text": {"field": "cat"}}}
   ]},
  {"width": 41, "height": 104, "view": {"stroke": "black", "strokeWidth": 1}, "transform": [{"filter": "datum.cat == 'Moderate'"}],
   "layer": [
    {"mark": {"type": "errorbar", "extent": "stderr", "ticks": {"size": 4}, "color": "black"}, "encoding": {"x": {"field": "measure", "type": "nominal", "scale": {"type": "point", "domain": ["NOc", "OcS", "ES"], "range": [8, 24]}, "axis": null}, "y": {"field": "value", "type": "quantitative", "scale": {"domain": [-5, 15], "nice": false, "zero": false}, "axis": null}}},
    {"mark": {"type": "tick", "orient": "horizontal", "size": 6, "thickness": 1, "color": "black"}, "encoding": {"x": {"field": "measure", "type": "nominal", "axis": null}, "y": {"aggregate": "mean", "field": "value", "type": "quantitative", "axis": null}}},
    {"mark": {"type": "point", "filled": false, "color": "black", "size": 30, "strokeWidth": 0.8, "opacity": 1}, "encoding": {"x": {"field": "measure", "type": "nominal", "axis": null}, "y": {"field": "value", "type": "quantitative", "axis": null}, "shape": {"field": "measure", "type": "nominal", "scale": {"domain": ["NOc", "OcS", "ES"], "range": ["circle", "square", "triangle-up"]}, "legend": null}}},
    {"transform": [{"aggregate": [{"op": "count", "as": "k"}], "groupby": ["cat"]}], "mark": {"type": "text", "baseline": "bottom", "dy": -2.5, "fontSize": 6.5}, "encoding": {"y": {"datum": -5}, "text": {"field": "cat"}}}
   ]},
  {"width": 40, "height": 104, "view": {"stroke": "black", "strokeWidth": 1}, "transform": [{"filter": "datum.cat == 'Other'"}],
   "layer": [
    {"mark": {"type": "errorbar", "extent": "stderr", "ticks": {"size": 4}, "color": "black"}, "encoding": {"x": {"field": "measure", "type": "nominal", "scale": {"type": "point", "domain": ["NOc", "OcS", "ES"], "range": [8, 24]}, "axis": null}, "y": {"field": "value", "type": "quantitative", "scale": {"domain": [-5, 15], "nice": false, "zero": false}, "axis": null}}},
    {"mark": {"type": "tick", "orient": "horizontal", "size": 6, "thickness": 1, "color": "black"}, "encoding": {"x": {"field": "measure", "type": "nominal", "axis": null}, "y": {"aggregate": "mean", "field": "value", "type": "quantitative", "axis": null}}},
    {"mark": {"type": "point", "filled": false, "color": "black", "size": 30, "strokeWidth": 0.8, "opacity": 1}, "encoding": {"x": {"field": "measure", "type": "nominal", "axis": null}, "y": {"field": "value", "type": "quantitative", "axis": null}, "shape": {"field": "measure", "type": "nominal", "scale": {"domain": ["NOc", "OcS", "ES"], "range": ["circle", "square", "triangle-up"]}, "legend": null}}},
    {"transform": [{"aggregate": [{"op": "count", "as": "k"}], "groupby": ["cat"]}], "mark": {"type": "text", "baseline": "bottom", "dy": -2.5, "fontSize": 6.5}, "encoding": {"y": {"datum": -5}, "text": {"field": "cat"}}}
   ]},
  {"width": 38, "height": 104, "view": {"stroke": "black", "strokeWidth": 1}, "transform": [{"filter": "datum.cat == 'NR'"}],
   "layer": [
    {"mark": {"type": "errorbar", "extent": "stderr", "ticks": {"size": 4}, "color": "black"}, "encoding": {"x": {"field": "measure", "type": "nominal", "scale": {"type": "point", "domain": ["NOc", "OcS", "ES"], "range": [8, 24]}, "axis": null}, "y": {"field": "value", "type": "quantitative", "scale": {"domain": [-5, 15], "nice": false, "zero": false}, "axis": null}}},
    {"mark": {"type": "tick", "orient": "horizontal", "size": 6, "thickness": 1, "color": "black"}, "encoding": {"x": {"field": "measure", "type": "nominal", "axis": null}, "y": {"aggregate": "mean", "field": "value", "type": "quantitative", "axis": null}}},
    {"mark": {"type": "point", "filled": false, "color": "black", "size": 30, "strokeWidth": 0.8, "opacity": 1}, "encoding": {"x": {"field": "measure", "type": "nominal", "axis": null}, "y": {"field": "value", "type": "quantitative", "axis": null}, "shape": {"field": "measure", "type": "nominal", "scale": {"domain": ["NOc", "OcS", "ES"], "range": ["circle", "square", "triangle-up"]}, "legend": {"title": null, "orient": "none", "legendX": 7, "legendY": 4, "strokeColor": "black", "padding": 1.5, "symbolSize": 12, "symbolStrokeWidth": 0.7, "labelFontSize": 5, "labelColor": "black", "rowPadding": 0.5, "labelOffset": 1.5}}}},
    {"transform": [{"aggregate": [{"op": "count", "as": "k"}], "groupby": ["cat"]}], "mark": {"type": "text", "baseline": "bottom", "dy": -2.5, "fontSize": 6.5}, "encoding": {"y": {"datum": -5}, "text": {"field": "cat"}}}
   ]}
 ]}
], "spacing": 9}
],
"spacing": 0
}
